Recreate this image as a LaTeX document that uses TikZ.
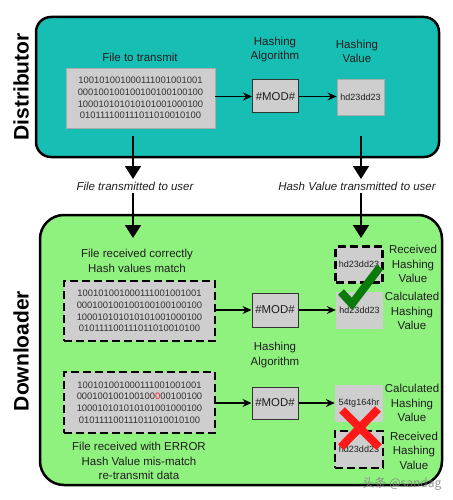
\documentclass[tikz,border=0pt]{standalone}
\usepackage{fontspec}
\setmainfont{Liberation Sans}
\newfontfamily\cjkfont{Noto Sans CJK SC}
\usetikzlibrary{arrows.meta}
\definecolor{tealbg}{RGB}{22,190,180}
\definecolor{greenbg}{RGB}{144,242,126}
\definecolor{boxgray}{RGB}{206,206,206}
\definecolor{graybd}{RGB}{170,170,170}
\definecolor{txt}{RGB}{30,30,30}
\definecolor{bintxt}{RGB}{50,50,50}
\definecolor{checkc}{RGB}{10,122,10}
\definecolor{xred}{RGB}{255,25,25}
\begin{document}
\begin{tikzpicture}[x=1pt,y=-1pt,
  panel/.style={draw=black, line width=2.5pt, inner sep=0pt},
  lbl/.style={font=\fontsize{11.5}{14.5}\selectfont, text=txt, align=center, inner sep=0pt},
  ital/.style={font=\fontsize{11.5}{14}\selectfont\itshape, text=txt, inner sep=0pt},
  side/.style={font=\fontsize{21}{24}\selectfont\bfseries, rotate=90, inner sep=0pt},
  binbox/.style={fill=boxgray, inner sep=0pt, align=center, text=bintxt,
    font=\fontsize{9.4}{11.6}\selectfont},
  plainbd/.style={draw=graybd, line width=0.8pt},
  dashbd/.style={draw=black, line width=2.4pt, dash pattern=on 8pt off 4pt},
  modbox/.style={fill=boxgray, draw=black!80, line width=1pt, inner sep=0pt,
    minimum width=46pt, font=\fontsize{11.4}{13}\selectfont, text=txt},
  hashbox/.style={fill=boxgray, inner sep=0pt, minimum width=47pt,
    font=\fontsize{9}{11}\selectfont, text=txt},
  arr/.style={-{Stealth[length=9pt,width=8pt,inset=3pt]}, line width=1.3pt},
  bigarr/.style={-{Triangle[length=13pt,width=16pt]}, line width=1.6pt}
]
\useasboundingbox (0,0) rectangle (452,500);

% panels
\node[panel, fill=tealbg, rounded corners=15pt, minimum width=403pt, minimum height=140pt] (dist) at (237.5,87) {};
\node[panel, fill=greenbg, rounded corners=24pt, minimum width=402pt, minimum height=270pt] (down) at (241,350) {};

\node[side] (distlbl) at (21,87) {Distributor};
\node[side] (downlbl) at (21,351) {Downloader};

% distributor
\node[lbl] (ftt) at (140,57) {File to transmit};
\node[lbl] (ha1) at (275,49.5) {Hashing\\Algorithm};
\node[lbl] (hv1) at (357,51.5) {Hashing\\Value};
\node[binbox, plainbd, minimum width=149pt, minimum height=60pt] (file1) at (140.5,98)
  {100101001000111001001001\\000100100100100100100100\\100010101010101001000100\\010111100111011010010100};
\node[modbox, minimum height=33pt] (mod1) at (275.5,96.5) {\#MOD\#};
\node[hashbox, plainbd, minimum height=36pt] (hash1) at (360.5,97) {hd23dd23};
\draw[arr] (file1.east |- mod1.west) -- (mod1.west);
\draw[arr] (mod1.east) -- (hash1.west |- mod1.east);

% transmission
\coordinate (a1s) at (133,136);
\coordinate (a1e) at (133,179);
\coordinate (a2s) at (361,136);
\coordinate (a2e) at (361,179);
\coordinate (b1s) at (133,193);
\coordinate (b1e) at (133,238);
\coordinate (b2s) at (361,193);
\coordinate (b2e) at (361,238);
\draw[bigarr] (a1s) -- (a1e);
\draw[bigarr] (a2s) -- (a2e);
\node[ital] (t1) at (135,186) {File transmitted to user};
\node[ital] (t2) at (357,186) {Hash Value transmitted to user};
\draw[bigarr] (b1s) -- (b1e);
\draw[bigarr] (b2s) -- (b2e);

% downloader, correct
\node[lbl] (ok) at (137,261) {File received correctly\\Hash values match};
\node[binbox, dashbd, minimum width=151pt, minimum height=60pt] (file2) at (139.5,311)
  {100101001000111001001001\\000100100100100100100100\\100010101010101001000100\\010111100111011010010100};
\node[modbox, minimum height=34pt] (mod2) at (275,310) {\#MOD\#};
\node[hashbox, dashbd, minimum height=36pt] (recv2) at (359,264.5) {hd23dd23};
\node[hashbox, minimum height=37pt] (calc2) at (359.5,310.5) {hd23dd23};
\node[lbl] (recv2l) at (413,264) {Received\\Hashing\\Value};
\node[lbl] (calc2l) at (412,311) {Calculated\\Hashing\\Value};
\draw[arr] (file2.east |- mod2.west) -- (mod2.west);
\draw[arr] (mod2.east) -- (calc2.west |- mod2.east);
\node[lbl] (ha2) at (275,355) {Hashing\\Algorithm};

% downloader, error
\node[binbox, dashbd, minimum width=151pt, minimum height=61pt] (file3) at (139.5,402.5)
  {100101001000111001001001\\000100100100100\textcolor{xred}{0}00100100\\100010101010101001000100\\010111100111011010010100};
\node[modbox, minimum height=32pt] (mod3) at (275,403) {\#MOD\#};
\node[hashbox, minimum width=48pt, minimum height=37pt] (calc3) at (359,403.5) {54tg164hr};
\node[hashbox, dashbd, minimum width=48pt, minimum height=37pt] (recv3) at (359,449.5) {hd23dd23};
\node[lbl] (calc3l) at (412,403) {Calculated\\Hashing\\Value};
\node[lbl] (recv3l) at (414,450.5) {Received\\Hashing\\Value};
\draw[arr] (file3.east |- mod3.west) -- (mod3.west);
\draw[arr] (mod3.east) -- (calc3.west |- mod3.east);
\node[lbl] (err) at (139,461) {File received with ERROR\\Hash Value mis-match\\re-transmit data};

% check and cross
\draw[checkc, line width=8pt, line join=miter, line cap=butt] (341,292) -- (352,304) -- (380,267);
\draw[xred, line width=8pt] (342,410) -- (379,447) (378,409) -- (341,447);

% watermark
\node[inner sep=0pt, text=gray, opacity=0.8, font=\cjkfont\fontsize{12}{14}\selectfont] (wm) at (402,484) {头条 @sandag};
\end{tikzpicture}
\end{document}
